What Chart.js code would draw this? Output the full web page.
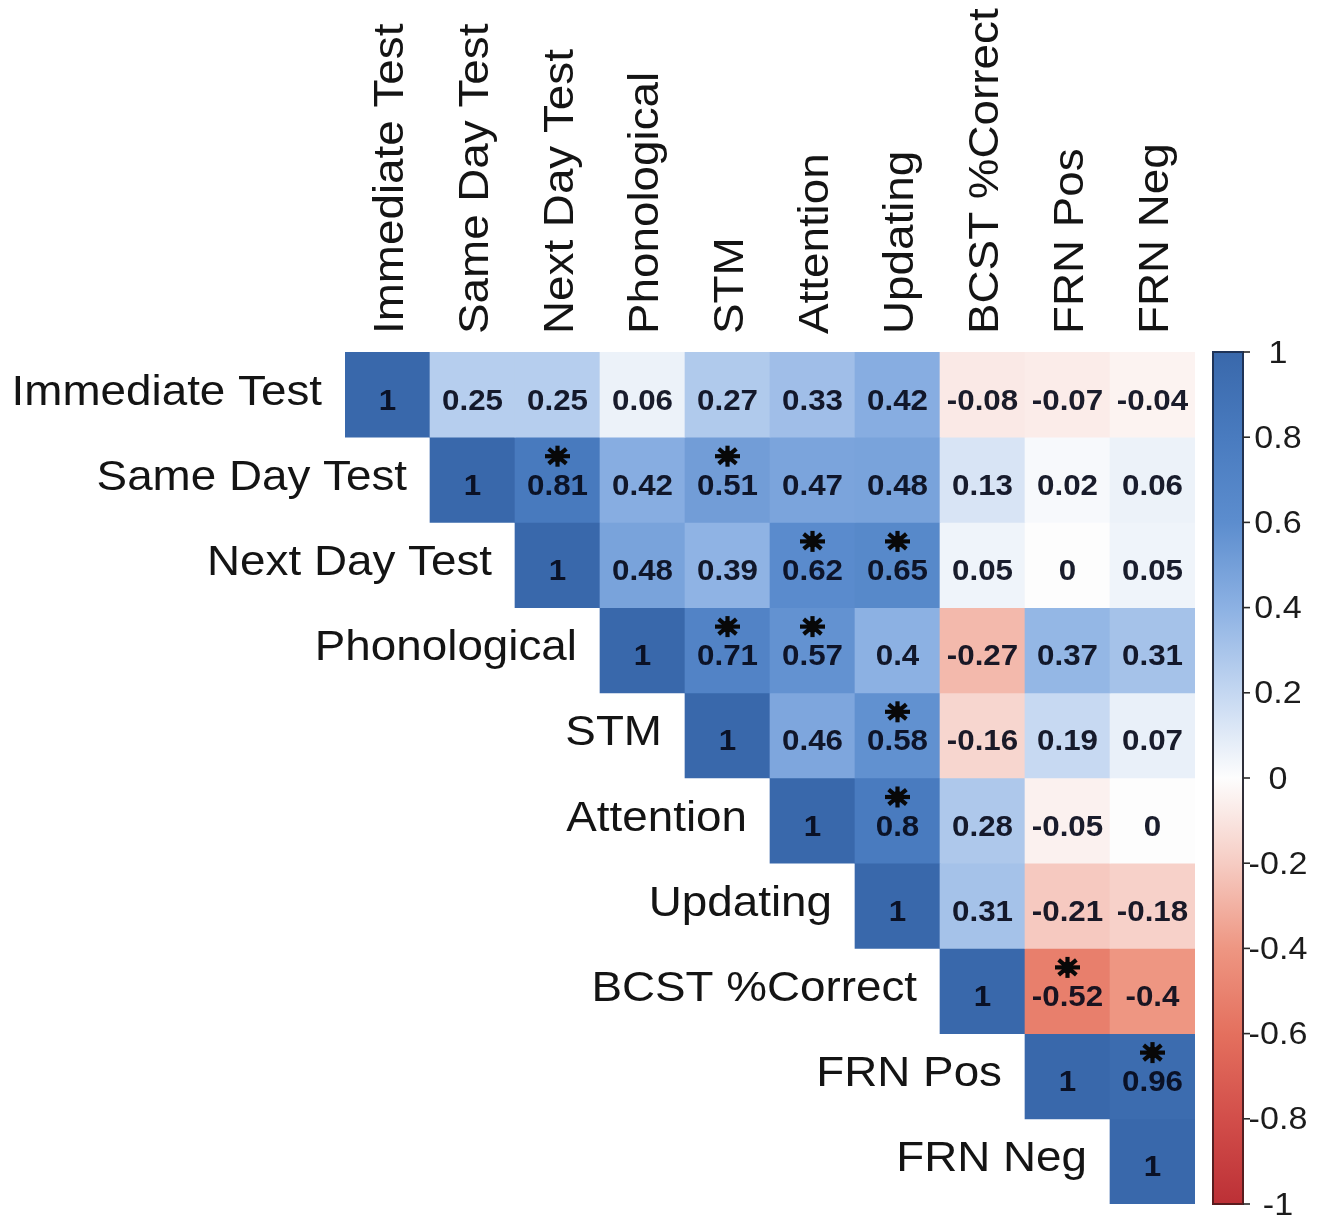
<!DOCTYPE html>
<html>
<head>
<meta charset="utf-8">
<title>Correlation matrix</title>
<script src="https://cdn.jsdelivr.net/npm/chart.js@4/dist/chart.umd.min.js"></script>
<style>
  html, body { margin: 0; padding: 0; background: #ffffff; }
  #wrap { width: 1327px; height: 1221px; }
</style>
</head>
<body>
<div id="wrap"><canvas id="c" width="1327" height="1221"></canvas></div>
<script>
// Variable names (rows and columns share the same order)
const variables = [
  'Immediate Test', 'Same Day Test', 'Next Day Test', 'Phonological', 'STM',
  'Attention', 'Updating', 'BCST %Correct', 'FRN Pos', 'FRN Neg'
];

// Upper triangle of the correlation matrix, one array per row starting at the diagonal
const row0 = [1, 0.25, 0.25, 0.06, 0.27, 0.33, 0.42, -0.08, -0.07, -0.04];
const row1 = [1, 0.81, 0.42, 0.51, 0.47, 0.48, 0.13, 0.02, 0.06];
const row2 = [1, 0.48, 0.39, 0.62, 0.65, 0.05, 0, 0.05];
const row3 = [1, 0.71, 0.57, 0.4, -0.27, 0.37, 0.31];
const row4 = [1, 0.46, 0.58, -0.16, 0.19, 0.07];
const row5 = [1, 0.8, 0.28, -0.05, 0];
const row6 = [1, 0.31, -0.21, -0.18];
const row7 = [1, -0.52, -0.4];
const row8 = [1, 0.96];
const row9 = [1];
const corrRows = [row0, row1, row2, row3, row4, row5, row6, row7, row8, row9];

// Significant pairs as [row, column]
const significant = [[1, 2], [1, 4], [2, 5], [2, 6], [3, 4], [3, 5], [4, 6], [5, 6], [7, 8], [8, 9]];

// Colour bar tick values
const colorbarTicks = [1, 0.8, 0.6, 0.4, 0.2, 0, -0.2, -0.4, -0.6, -0.8, -1];

// Diverging palette: value -> colour
const paletteStops = [-1, -0.8, -0.6, -0.4, -0.2, 0, 0.2, 0.4, 0.6, 0.8, 1];
const paletteColors = [
  [188, 48, 54], [210, 78, 74], [228, 112, 94], [238, 150, 130], [246, 204, 195],
  [253, 253, 253],
  [196, 215, 241], [140, 177, 227], [92, 141, 206], [73, 123, 191], [57, 104, 171]
];

function colorFor(v) {
  v = Math.max(-1, Math.min(1, v));
  for (let i = 0; i < paletteStops.length - 1; i++) {
    const a = paletteStops[i], b = paletteStops[i + 1];
    if (v >= a && v <= b) {
      const t = (v - a) / (b - a);
      const ca = paletteColors[i], cb = paletteColors[i + 1];
      const mix = ca.map((x, k) => Math.round(x + (cb[k] - x) * t));
      return `rgb(${mix[0]},${mix[1]},${mix[2]})`;
    }
  }
  return '#ffffff';
}

// Value of the cell (row r, column c) in the upper triangle
function cellValue(r, c) {
  return c >= r ? corrRows[r][c - r] : null;
}

// One floating-bar dataset per matrix row; each bar spans one row band
const datasets = corrRows.map((vals, r) => ({
  label: variables[r],
  data: variables.map((_, c) => (c >= r ? [r - 0.5, r + 0.5] : null)),
  backgroundColor: (ctx) => {
    const v = cellValue(r, ctx.dataIndex);
    return v === null ? 'rgba(0,0,0,0)' : colorFor(v);
  },
  borderWidth: 0,
  borderSkipped: false,
  categoryPercentage: 1.0,
  barPercentage: 1.0,
  grouped: false
}));

const FONT = '"Liberation Sans", Arial, Helvetica, sans-serif';

function stretchedText(ctx, text, x, y, sx) {
  ctx.save();
  ctx.translate(x, y);
  ctx.scale(sx, 1);
  ctx.fillText(text, 0, 0);
  ctx.restore();
}

function drawAsterisk(ctx, x, y) {
  ctx.save();
  ctx.strokeStyle = '#080808';
  ctx.fillStyle = '#080808';
  ctx.lineWidth = 4.2;
  ctx.lineCap = 'butt';
  const rx = 12.5, ry = 10.5;
  for (let k = 0; k < 4; k++) {
    const a = k * Math.PI / 4;
    const dx = Math.cos(a) * rx, dy = Math.sin(a) * ry;
    ctx.beginPath();
    ctx.moveTo(x - dx, y - dy);
    ctx.lineTo(x + dx, y + dy);
    ctx.stroke();
  }
  ctx.beginPath();
  ctx.arc(x, y, 6, 0, Math.PI * 2);
  ctx.fill();
  ctx.restore();
}

const matrixDecor = {
  id: 'matrixDecor',
  afterDatasetsDraw(chart) {
    const ctx = chart.ctx;
    const area = chart.chartArea;
    const xs = chart.scales.x;

    // Cell values and significance markers
    chart.data.datasets.forEach((ds, r) => {
      const meta = chart.getDatasetMeta(r);
      meta.data.forEach((el, c) => {
        const v = cellValue(r, c);
        if (v === null) return;
        const p = el.getProps(['x', 'y', 'base', 'width'], true);
        const top = Math.min(p.y, p.base);
        const cy = (p.y + p.base) / 2;
        ctx.save();
        ctx.fillStyle = 'rgba(6,10,26,0.92)';
        ctx.font = `bold 29px ${FONT}`;
        ctx.textAlign = 'center';
        ctx.textBaseline = 'alphabetic';
        stretchedText(ctx, String(v), p.x, cy + 15, 1.08);
        ctx.restore();
        if (significant.some(([a, b]) => a === r && b === c)) {
          drawAsterisk(ctx, p.x, top + 19);
        }
      });
    });

    // Row names, right-aligned just left of each row's diagonal cell
    ctx.save();
    ctx.fillStyle = '#141414';
    ctx.font = `42px ${FONT}`;
    ctx.textAlign = 'right';
    ctx.textBaseline = 'alphabetic';
    variables.forEach((name, r) => {
      const el = chart.getDatasetMeta(r).data[r];
      const p = el.getProps(['x', 'y', 'base', 'width'], true);
      const left = p.x - p.width / 2;
      const cy = (p.y + p.base) / 2;
      ctx.save();
      ctx.translate(left - 23, cy + 10);
      ctx.scale(1.09, 1);
      ctx.fillText(name, 0, 0);
      ctx.restore();
    });
    ctx.restore();

    // Column names, rotated, above the matrix
    ctx.save();
    ctx.fillStyle = '#141414';
    ctx.font = `42px ${FONT}`;
    ctx.textAlign = 'left';
    ctx.textBaseline = 'alphabetic';
    variables.forEach((name, c) => {
      const cx = xs.getPixelForValue(c);
      ctx.save();
      ctx.translate(cx + 15, area.top - 18);
      ctx.rotate(-Math.PI / 2);
      ctx.scale(1.09, 1);
      ctx.fillText(name, 0, 0);
      ctx.restore();
    });
    ctx.restore();

    // Colour bar
    const barL = 1213, barR = 1243;
    const barT = area.top, barB = area.bottom;
    const valToY = (v) => barT + (1 - v) / 2 * (barB - barT);
    ctx.save();
    const grad = ctx.createLinearGradient(0, barT, 0, barB);
    for (let i = paletteStops.length - 1; i >= 0; i--) {
      const c = paletteColors[i];
      grad.addColorStop((1 - paletteStops[i]) / 2, `rgb(${c[0]},${c[1]},${c[2]})`);
    }
    ctx.fillStyle = grad;
    ctx.fillRect(barL, barT, barR - barL, barB - barT);
    const edge = ctx.createLinearGradient(0, barT, 0, barB);
    edge.addColorStop(0, '#1e3358');
    edge.addColorStop(0.5, '#2e2e38');
    edge.addColorStop(1, '#5a1c1e');
    ctx.strokeStyle = edge;
    ctx.lineWidth = 2;
    ctx.strokeRect(barL, barT, barR - barL, barB - barT);

    ctx.lineWidth = 1.6;
    ctx.strokeStyle = '#2a2a2a';
    ctx.fillStyle = '#1c1c1c';
    ctx.font = `31px ${FONT}`;
    ctx.textAlign = 'center';
    ctx.textBaseline = 'middle';
    colorbarTicks.forEach((t) => {
      const y = valToY(t);
      ctx.beginPath();
      ctx.moveTo(barR, y);
      ctx.lineTo(barR + 7, y);
      ctx.stroke();
      stretchedText(ctx, String(t), 1278, y + 2, 1.1);
    });
    ctx.restore();
  }
};

new Chart(document.getElementById('c'), {
  type: 'bar',
  data: { labels: variables, datasets },
  options: {
    responsive: false,
    animation: false,
    events: [],
    layout: { padding: { left: 345, right: 132, top: 352, bottom: 17 } },
    plugins: { legend: { display: false }, tooltip: { enabled: false } },
    scales: {
      x: { type: 'category', display: false, offset: true },
      y: { type: 'linear', display: false, min: -0.5, max: 9.5, reverse: true }
    }
  },
  plugins: [matrixDecor]
});
</script>
</body>
</html>
